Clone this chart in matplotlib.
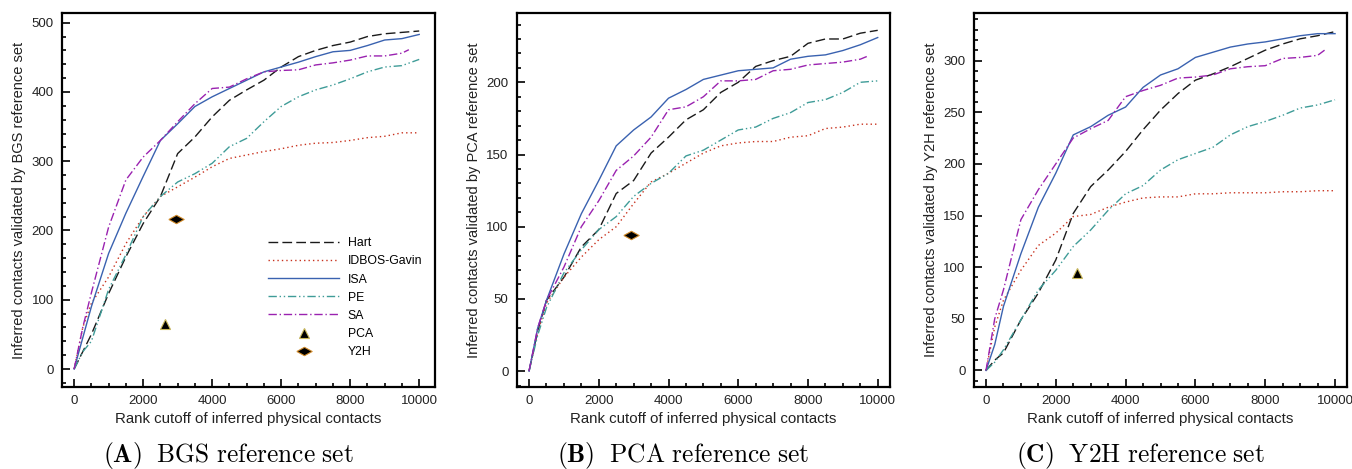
import matplotlib.pyplot as plt
from matplotlib.ticker import MultipleLocator
from matplotlib.lines import Line2D

plt.rcParams.update({
    "font.family": ["Liberation Sans", "DejaVu Sans"],
    "mathtext.fontset": "cm",
    "axes.linewidth": 1.6,
})

# --- Data ---
x_grid = [0, 250, 500, 1000, 1500, 2000, 2500, 3000, 3500, 4000, 4500,
          5000, 5500, 6000, 6500, 7000, 7500, 8000, 8500, 9000, 9500, 10000]
x_sa = [0, 250, 500, 1000, 1500, 2000, 2500, 3000, 3500, 4000, 4500,
        5000, 5500, 6000, 6500, 7000, 7500, 8000, 8500, 9000, 9500, 9700]

# (A) BGS reference set
bgs_hart = [0, 25, 50, 109, 162, 210, 249, 311, 335, 364, 388, 403, 417, 436, 451, 460, 467, 472, 480, 484, 486, 488]
bgs_idbos = [0, 60, 95, 133, 181, 220, 249, 263, 277, 292, 304, 309, 314, 318, 323, 326, 327, 330, 334, 336, 341, 341]
bgs_isa = [0, 45, 90, 167, 225, 278, 330, 354, 379, 393, 405, 417, 429, 436, 443, 451, 458, 460, 467, 475, 477, 483]
bgs_pe = [0, 25, 40, 115, 165, 220, 249, 270, 282, 297, 321, 333, 357, 379, 393, 403, 410, 419, 429, 436, 438, 447]
bgs_sa = [0, 60, 110, 205, 273, 306, 330, 357, 383, 405, 407, 419, 429, 431, 432, 439, 442, 446, 452, 452, 456, 461]
bgs_pca = (2620, 65)
bgs_y2h = (2950, 217)

# (B) PCA reference set
pca_hart = [0, 28, 49, 65, 86, 98, 123, 132, 151, 162, 174, 181, 193, 200, 211, 215, 218, 227, 230, 230, 234, 236]
pca_idbos = [0, 27, 47, 65, 79, 91, 100, 116, 131, 137, 144, 151, 156, 158, 159, 159, 162, 163, 168, 169, 171, 171]
pca_isa = [0, 30, 49, 81, 109, 132, 156, 167, 176, 189, 195, 202, 205, 208, 209, 210, 216, 218, 219, 222, 226, 231]
pca_pe = [0, 25, 44, 68, 84, 98, 107, 121, 130, 137, 149, 153, 160, 167, 169, 175, 179, 186, 188, 193, 200, 201]
pca_sa = [0, 30, 49, 72, 100, 118, 139, 149, 162, 181, 183, 190, 201, 201, 202, 208, 209, 212, 213, 214, 216, 218]
pca_y2h = (2930, 94)

# (C) Y2H reference set
y2h_hart = [0, 10, 17, 49, 75, 107, 152, 178, 194, 212, 233, 252, 268, 281, 287, 294, 302, 310, 316, 321, 324, 328]
y2h_idbos = [0, 42, 68, 97, 121, 133, 149, 151, 158, 163, 167, 168, 168, 171, 171, 172, 172, 172, 173, 173, 174, 174]
y2h_isa = [0, 25, 62, 113, 158, 191, 228, 236, 247, 255, 274, 286, 292, 303, 308, 313, 316, 318, 321, 324, 326, 326]
y2h_pe = [0, 8, 20, 49, 78, 97, 120, 136, 155, 171, 179, 194, 204, 210, 216, 228, 236, 241, 247, 254, 257, 262]
y2h_sa = [0, 50, 78, 146, 175, 200, 225, 234, 242, 265, 271, 276, 283, 284, 286, 292, 294, 295, 302, 303, 305, 310]
y2h_pca = (2610, 94)

methods = ["Hart", "IDBOS-Gavin", "ISA", "PE", "SA"]
colors = {"Hart": "#1a1a1a", "IDBOS-Gavin": "#c8321e", "ISA": "#3a62b0",
          "PE": "#3f9c98", "SA": "#9a22b0"}
dashes = {"Hart": (7, 3), "IDBOS-Gavin": (1, 2.2), "ISA": None,
          "PE": (6, 2, 1, 2, 1, 2), "SA": (6, 2, 1, 2)}

# flattened diamond used for the Y2H point
flat_diamond = [(-1, 0), (0, 0.55), (1, 0), (0, -0.55), (-1, 0)]
pca_style = dict(linestyle="none", marker="^", ms=7, color="black",
                 markeredgecolor="#c9b85a", markeredgewidth=0.8)
y2h_style = dict(linestyle="none", marker=flat_diamond, ms=11, color="black",
                 markeredgecolor="#d08a2a", markeredgewidth=0.8)

panels = [
    dict(series=[bgs_hart, bgs_idbos, bgs_isa, bgs_pe, bgs_sa], pca=bgs_pca, y2h=bgs_y2h,
         ref="BGS", letter="A", ylim=(-26, 514), major=100, minor=20,
         pos=[0.0459, 0.1748, 0.2759, 0.7975], xlim=(-350, 10460)),
    dict(series=[pca_hart, pca_idbos, pca_isa, pca_pe, pca_sa], pca=None, y2h=pca_y2h,
         ref="PCA", letter="B", ylim=(-11, 248), major=50, minor=10,
         pos=[0.3822, 0.1748, 0.2761, 0.7975], xlim=(-353, 10353)),
    dict(series=[y2h_hart, y2h_idbos, y2h_isa, y2h_pe, y2h_sa], pca=y2h_pca, y2h=None,
         ref="Y2H", letter="C", ylim=(-16, 346), major=50, minor=10,
         pos=[0.7204, 0.1748, 0.2757, 0.7975], xlim=(-344, 10335)),
]


def styled_line(name):
    ln = Line2D([], [], color=colors[name], lw=1.0)
    if dashes[name]:
        ln.set_dashes(dashes[name])
    return ln


fig = plt.figure(figsize=(13.52, 4.69), dpi=100)

for p in panels:
    ax = fig.add_axes(p["pos"])
    for name, ys in zip(methods, p["series"]):
        xs = x_sa if name == "SA" else x_grid
        line, = ax.plot(xs, ys, color=colors[name], lw=1.0, label=name)
        if dashes[name]:
            line.set_dashes(dashes[name])
    if p["pca"] is not None:
        ax.plot(*p["pca"], **pca_style)
    if p["y2h"] is not None:
        ax.plot(*p["y2h"], **y2h_style)

    ax.set_xlim(*p["xlim"])
    ax.set_ylim(*p["ylim"])
    ax.xaxis.set_major_locator(MultipleLocator(2000))
    ax.xaxis.set_minor_locator(MultipleLocator(500))
    ax.yaxis.set_major_locator(MultipleLocator(p["major"]))
    ax.yaxis.set_minor_locator(MultipleLocator(p["minor"]))
    ax.tick_params(which="both", direction="in", width=1.2, colors="black",
                   labelcolor="#222222", labelsize=9.5)
    ax.tick_params(which="major", length=6, pad=6)
    ax.tick_params(which="minor", length=3)
    ax.set_xlabel("Rank cutoff of inferred physical contacts", fontsize=10.8,
                  color="#222222", labelpad=3)
    ax.set_ylabel(f"Inferred contacts validated by {p['ref']} reference set",
                  fontsize=10.5, color="#222222", labelpad=4)
    ax.text(0.446, -0.183, rf"$\mathbf{{({p['letter']})}}\ \ \mathrm{{{p['ref']}\ reference\ set}}$",
            transform=ax.transAxes, ha="center", va="center", fontsize=18.3)

    if p["letter"] == "A":
        handles = [styled_line(m) for m in methods]
        handles.append(Line2D([], [], **pca_style))
        handles.append(Line2D([], [], **y2h_style))
        ax.legend(handles, methods + ["PCA", "Y2H"], loc="center left",
                  bbox_to_anchor=(0.536, 0.239), frameon=False, fontsize=8.8,
                  handlelength=5.8, handletextpad=0.7, labelspacing=0.5,
                  borderpad=0, numpoints=1)

fig.savefig("out.png", dpi=100)
